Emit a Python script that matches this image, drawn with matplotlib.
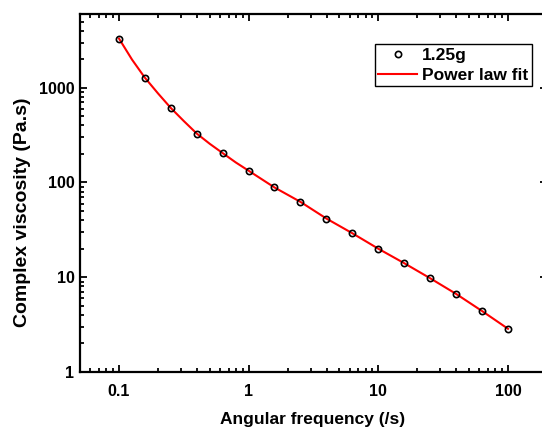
import matplotlib
matplotlib.use("Agg")
import matplotlib.pyplot as plt
from matplotlib.ticker import LogLocator, FixedLocator, NullFormatter, FixedFormatter

plt.rcParams['font.family'] = ['Liberation Sans', 'DejaVu Sans']

# Angular frequency sweep (rad/s) and measured complex viscosity (Pa.s)
freq = [0.1, 0.158, 0.251, 0.398, 0.631, 1.0, 1.58, 2.51, 3.98, 6.31,
        10.0, 15.8, 25.1, 39.8, 63.1, 100.0]
viscosity = [3300, 1280, 611, 328, 204, 133, 88.7, 62.4, 41.6, 29.1,
             20.0, 14.1, 9.76, 6.67, 4.40, 2.86]

# Power-law fit curve
fit_freq = [0.1, 0.126, 0.158, 0.2, 0.251, 0.316, 0.398, 0.501, 0.631, 0.794,
            1.0, 1.58, 2.51, 3.98, 6.31, 10.0, 15.8, 25.1, 39.8, 63.1, 100.0]
fit_visc = [3300, 1980, 1280, 870, 611, 445, 328, 256, 204, 163,
            133, 88.7, 62.4, 41.6, 29.1, 20.0, 14.1, 9.76, 6.67, 4.40, 2.86]

x_ticks = [0.1, 1, 10, 100]
x_tick_labels = ['0.1', '1', '10', '100']
y_ticks = [1, 10, 100, 1000]
y_tick_labels = ['1', '10', '100', '1000']

W, H = 542, 430
fig = plt.figure(figsize=(W / 100, H / 100), dpi=100)
ax = fig.add_axes([80 / W, (H - 372) / H, (547 - 80) / W, (372 - 14) / H])

ax.plot(fit_freq, fit_visc, color='#ff0000', lw=1.5, label='Power law fit', zorder=2)
ax.plot(freq, viscosity, linestyle='none', marker='o', ms=4.5, mfc='none',
        mec='black', mew=1.2, label='1.25g', zorder=3)

ax.set_xscale('log')
ax.set_yscale('log')
ax.set_xlim(0.05, 200)
ax.set_ylim(1, 6000)

ax.xaxis.set_major_locator(FixedLocator(x_ticks))
ax.xaxis.set_major_formatter(FixedFormatter(x_tick_labels))
ax.yaxis.set_major_locator(FixedLocator(y_ticks))
ax.yaxis.set_major_formatter(FixedFormatter(y_tick_labels))
ax.xaxis.set_minor_locator(LogLocator(base=10, subs=range(2, 10), numticks=20))
ax.yaxis.set_minor_locator(LogLocator(base=10, subs=range(2, 10), numticks=20))
ax.xaxis.set_minor_formatter(NullFormatter())
ax.yaxis.set_minor_formatter(NullFormatter())

for s in ax.spines.values():
    s.set_linewidth(1.6)
ax.tick_params(which='both', direction='in', top=True, right=True, width=1.3)
ax.tick_params(which='major', length=5)
ax.tick_params(which='minor', length=3)
ax.tick_params(axis='x', which='major', pad=9)
ax.tick_params(axis='y', which='major', pad=4)
for lab in ax.get_xticklabels() + ax.get_yticklabels():
    lab.set_fontsize(11.5)
    lab.set_fontweight('bold')

ax.set_xlabel('Angular frequency (/s)', fontsize=12.5, fontweight='bold')
ax.set_ylabel('Complex viscosity (Pa.s)', fontsize=14, fontweight='bold')
ax.xaxis.set_label_coords((313 - 80) / (547 - 80), -(412 - 372) / (372 - 14))
ax.yaxis.set_label_coords(-(80 - 31) / (547 - 80), (372 - 212) / (372 - 14))

handles, labels = ax.get_legend_handles_labels()
leg = fig.legend(handles[::-1], labels[::-1], loc='upper left',
                 bbox_to_anchor=(375 / W, 1 - 44 / H), borderaxespad=0,
                 fancybox=False, framealpha=1, edgecolor='black',
                 prop={'size': 12.5, 'weight': 'bold'}, handlelength=2.2,
                 borderpad=0.2, labelspacing=0.3, handletextpad=0.3)
leg.get_frame().set_linewidth(1.0)

fig.savefig('out.png', dpi=100)
